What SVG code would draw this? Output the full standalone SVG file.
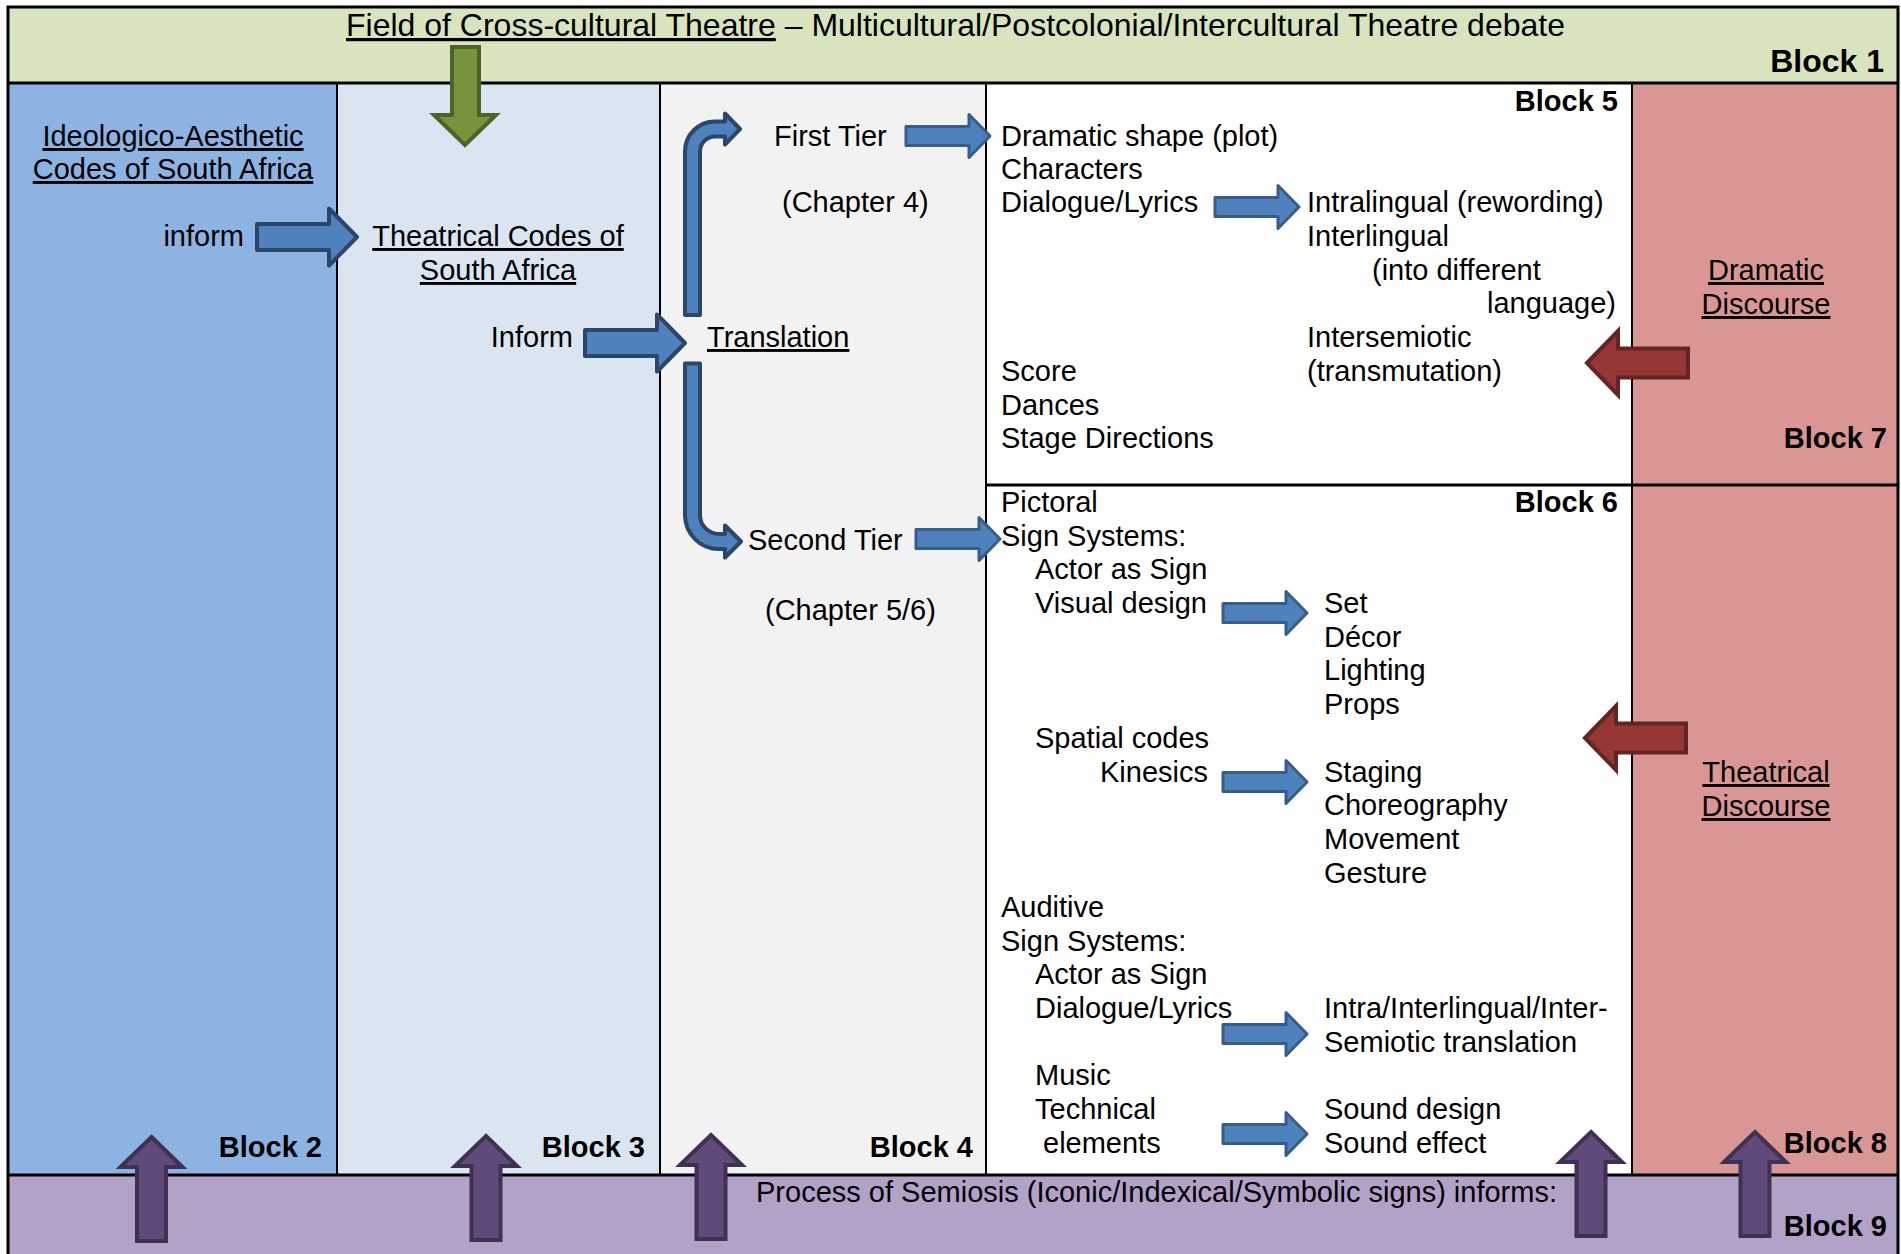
<svg xmlns="http://www.w3.org/2000/svg" width="1901" height="1254" viewBox="0 0 1901 1254">
<style>
text{font-family:"Liberation Sans",Arial,sans-serif;font-size:29px;fill:#000}
.t{font-size:32px}
.b{font-weight:bold;text-anchor:end}
.m{text-anchor:middle}
.e{text-anchor:end}
.u{text-decoration:underline}
.blk{stroke:#000;stroke-width:2}
.thick{stroke:#000;stroke-width:3;fill:none}
.bs{fill:#4F81BD;stroke:#385D8A;stroke-width:3;stroke-linejoin:round}
.bb{fill:#4F81BD;stroke:#2A4669;stroke-width:4;stroke-linejoin:round}
.rd{fill:#953735;stroke:#632523;stroke-width:4}
.pu{fill:#604A7B;stroke:#3F3151;stroke-width:4}
.gr{fill:#77933C;stroke:#4F6228;stroke-width:4}
</style>
<defs>
<path id="arrS" d="M-84,-9.5 H-21 V-21.5 L0,0 L-21,21.5 V9.5 H-84 Z"/>
<path id="arrB" d="M-100,-13 H-28 V-28.5 L0,0 L-28,28.5 V13 H-100 Z"/>
<path id="arrL" d="M0,0 L31,-32 V-14.5 H101 V14.5 H31 V32 Z"/>
<path id="arrU" d="M0,0 L31,30 H14.5 V104 H-14.5 V30 H-31 Z"/>
</defs>
<rect x="0" y="0" width="1901" height="1254" fill="#fff"/>

<g id="block1">
<rect class="blk" x="8" y="7" width="1890" height="76" fill="#D7E4BD"/>
<text class="t" x="346" y="36"><tspan class="u">Field of Cross-cultural Theatre</tspan> – Multicultural/Postcolonial/Intercultural Theatre debate</text>
<text class="b t" x="1884" y="72">Block 1</text>
</g>

<g id="block2">
<rect class="blk" x="8" y="83" width="329" height="1092" fill="#8DB3E2"/>
<text class="m u" x="173" y="146">Ideologico-Aesthetic</text>
<text class="m u" x="173" y="179">Codes of South Africa</text>
<text class="e" x="244" y="246">inform</text>
<text class="b" x="322" y="1157">Block 2</text>
</g>

<g id="block3">
<rect class="blk" x="337" y="83" width="323" height="1092" fill="#DBE5F1"/>
<text class="m u" x="498" y="246">Theatrical Codes of</text>
<text class="m u" x="498" y="280">South Africa</text>
<text class="e" x="573" y="347">Inform</text>
<text class="b" x="645" y="1157">Block 3</text>
</g>

<g id="block4">
<rect class="blk" x="660" y="83" width="326" height="1092" fill="#F2F2F2"/>
<text x="774" y="146">First Tier</text>
<text x="782" y="212">(Chapter 4)</text>
<text class="u" x="707" y="347">Translation</text>
<text x="748" y="550">Second Tier</text>
<text x="765" y="620">(Chapter 5/6)</text>
<text class="b" x="973" y="1157">Block 4</text>
</g>

<g id="block5">
<rect class="blk" x="986" y="83" width="646" height="402" fill="#fff"/>
<text class="b" x="1618" y="111">Block 5</text>
<text x="1001" y="146">Dramatic shape (plot)</text>
<text x="1001" y="179">Characters</text>
<text x="1001" y="212">Dialogue/Lyrics</text>
<text x="1307" y="212">Intralingual (rewording)</text>
<text x="1307" y="246">Interlingual</text>
<text x="1372" y="280">(into different</text>
<text class="e" x="1616" y="313">language)</text>
<text x="1307" y="347">Intersemiotic</text>
<text x="1307" y="381">(transmutation)</text>
<text x="1001" y="381">Score</text>
<text x="1001" y="415">Dances</text>
<text x="1001" y="448">Stage Directions</text>
</g>

<g id="block6">
<rect class="blk" x="986" y="485" width="646" height="690" fill="#fff"/>
<text x="1001" y="512">Pictoral</text>
<text class="b" x="1618" y="512">Block 6</text>
<text x="1001" y="546">Sign Systems:</text>
<text x="1035" y="579">Actor as Sign</text>
<text x="1035" y="613">Visual design</text>
<text x="1324" y="613">Set</text>
<text x="1324" y="647">Décor</text>
<text x="1324" y="680">Lighting</text>
<text x="1324" y="714">Props</text>
<text x="1035" y="748">Spatial codes</text>
<text class="e" x="1208" y="782">Kinesics</text>
<text x="1324" y="782">Staging</text>
<text x="1324" y="815">Choreography</text>
<text x="1324" y="849">Movement</text>
<text x="1324" y="883">Gesture</text>
<text x="1001" y="917">Auditive</text>
<text x="1001" y="951">Sign Systems:</text>
<text x="1035" y="984">Actor as Sign</text>
<text x="1035" y="1018">Dialogue/Lyrics</text>
<text x="1324" y="1018">Intra/Interlingual/Inter-</text>
<text x="1324" y="1052">Semiotic translation</text>
<text x="1035" y="1085">Music</text>
<text x="1035" y="1119">Technical</text>
<text x="1043" y="1153">elements</text>
<text x="1324" y="1119">Sound design</text>
<text x="1324" y="1153">Sound effect</text>
</g>

<g id="block7">
<rect class="blk" x="1632" y="83" width="266" height="402" fill="#D99694"/>
<text class="m u" x="1766" y="280">Dramatic</text>
<text class="m u" x="1766" y="314">Discourse</text>
<text class="b" x="1887" y="448">Block 7</text>
</g>

<g id="block8">
<rect class="blk" x="1632" y="485" width="266" height="690" fill="#D99694"/>
<text class="m u" x="1766" y="782">Theatrical</text>
<text class="m u" x="1766" y="816">Discourse</text>
<text class="b" x="1887" y="1153">Block 8</text>
</g>

<g id="block9">
<rect class="blk" x="8" y="1175" width="1890" height="90" fill="#B2A2C7"/>
<text x="756" y="1202">Process of Semiosis (Iconic/Indexical/Symbolic signs) informs:</text>
<text class="b" x="1887" y="1236">Block 9</text>
</g>

<g id="frame">
<rect class="thick" x="8" y="7" width="1890" height="1260"/>
<line class="thick" x1="8" y1="83" x2="1898" y2="83"/>
<line class="thick" x1="986" y1="485" x2="1898" y2="485"/>
<line class="thick" x1="8" y1="1175" x2="1898" y2="1175"/>
</g>

<g id="connectors">
<path class="gr" d="M452,47 H479 V115 H496 L465,145 L434,115 H452 Z"/>
<use href="#arrB" class="bb" x="357" y="237"/>
<use href="#arrB" class="bb" x="685" y="343"/>
<path class="bb" d="M685,315 V151.5 A30,30 0 0 1 715,121.5 H725 V113.5 L740,129 L725,144.5 V136.5 H715 A15,15 0 0 0 700,151.5 V315 Z"/>
<path class="bb" d="M685,363.5 H700 V515 A19,19 0 0 0 719,534 H725 V525.5 L741,541.5 L725,557.5 V549 H719 A34,34 0 0 1 685,515 Z"/>
<use href="#arrS" class="bs" x="990" y="136"/>
<use href="#arrS" class="bs" x="1299" y="207"/>
<use href="#arrS" class="bs" x="1000" y="539"/>
<use href="#arrS" class="bs" x="1307" y="613"/>
<use href="#arrS" class="bs" x="1307" y="782"/>
<use href="#arrS" class="bs" x="1307" y="1034"/>
<use href="#arrS" class="bs" x="1307" y="1134"/>
<use href="#arrL" class="rd" x="1587" y="363"/>
<use href="#arrL" class="rd" x="1585" y="738"/>
<use href="#arrU" class="pu" x="151.5" y="1137"/>
<use href="#arrU" class="pu" x="486" y="1136"/>
<use href="#arrU" class="pu" x="711" y="1135"/>
<use href="#arrU" class="pu" x="1591" y="1132"/>
<use href="#arrU" class="pu" x="1755" y="1132"/>
</g>
</svg>
